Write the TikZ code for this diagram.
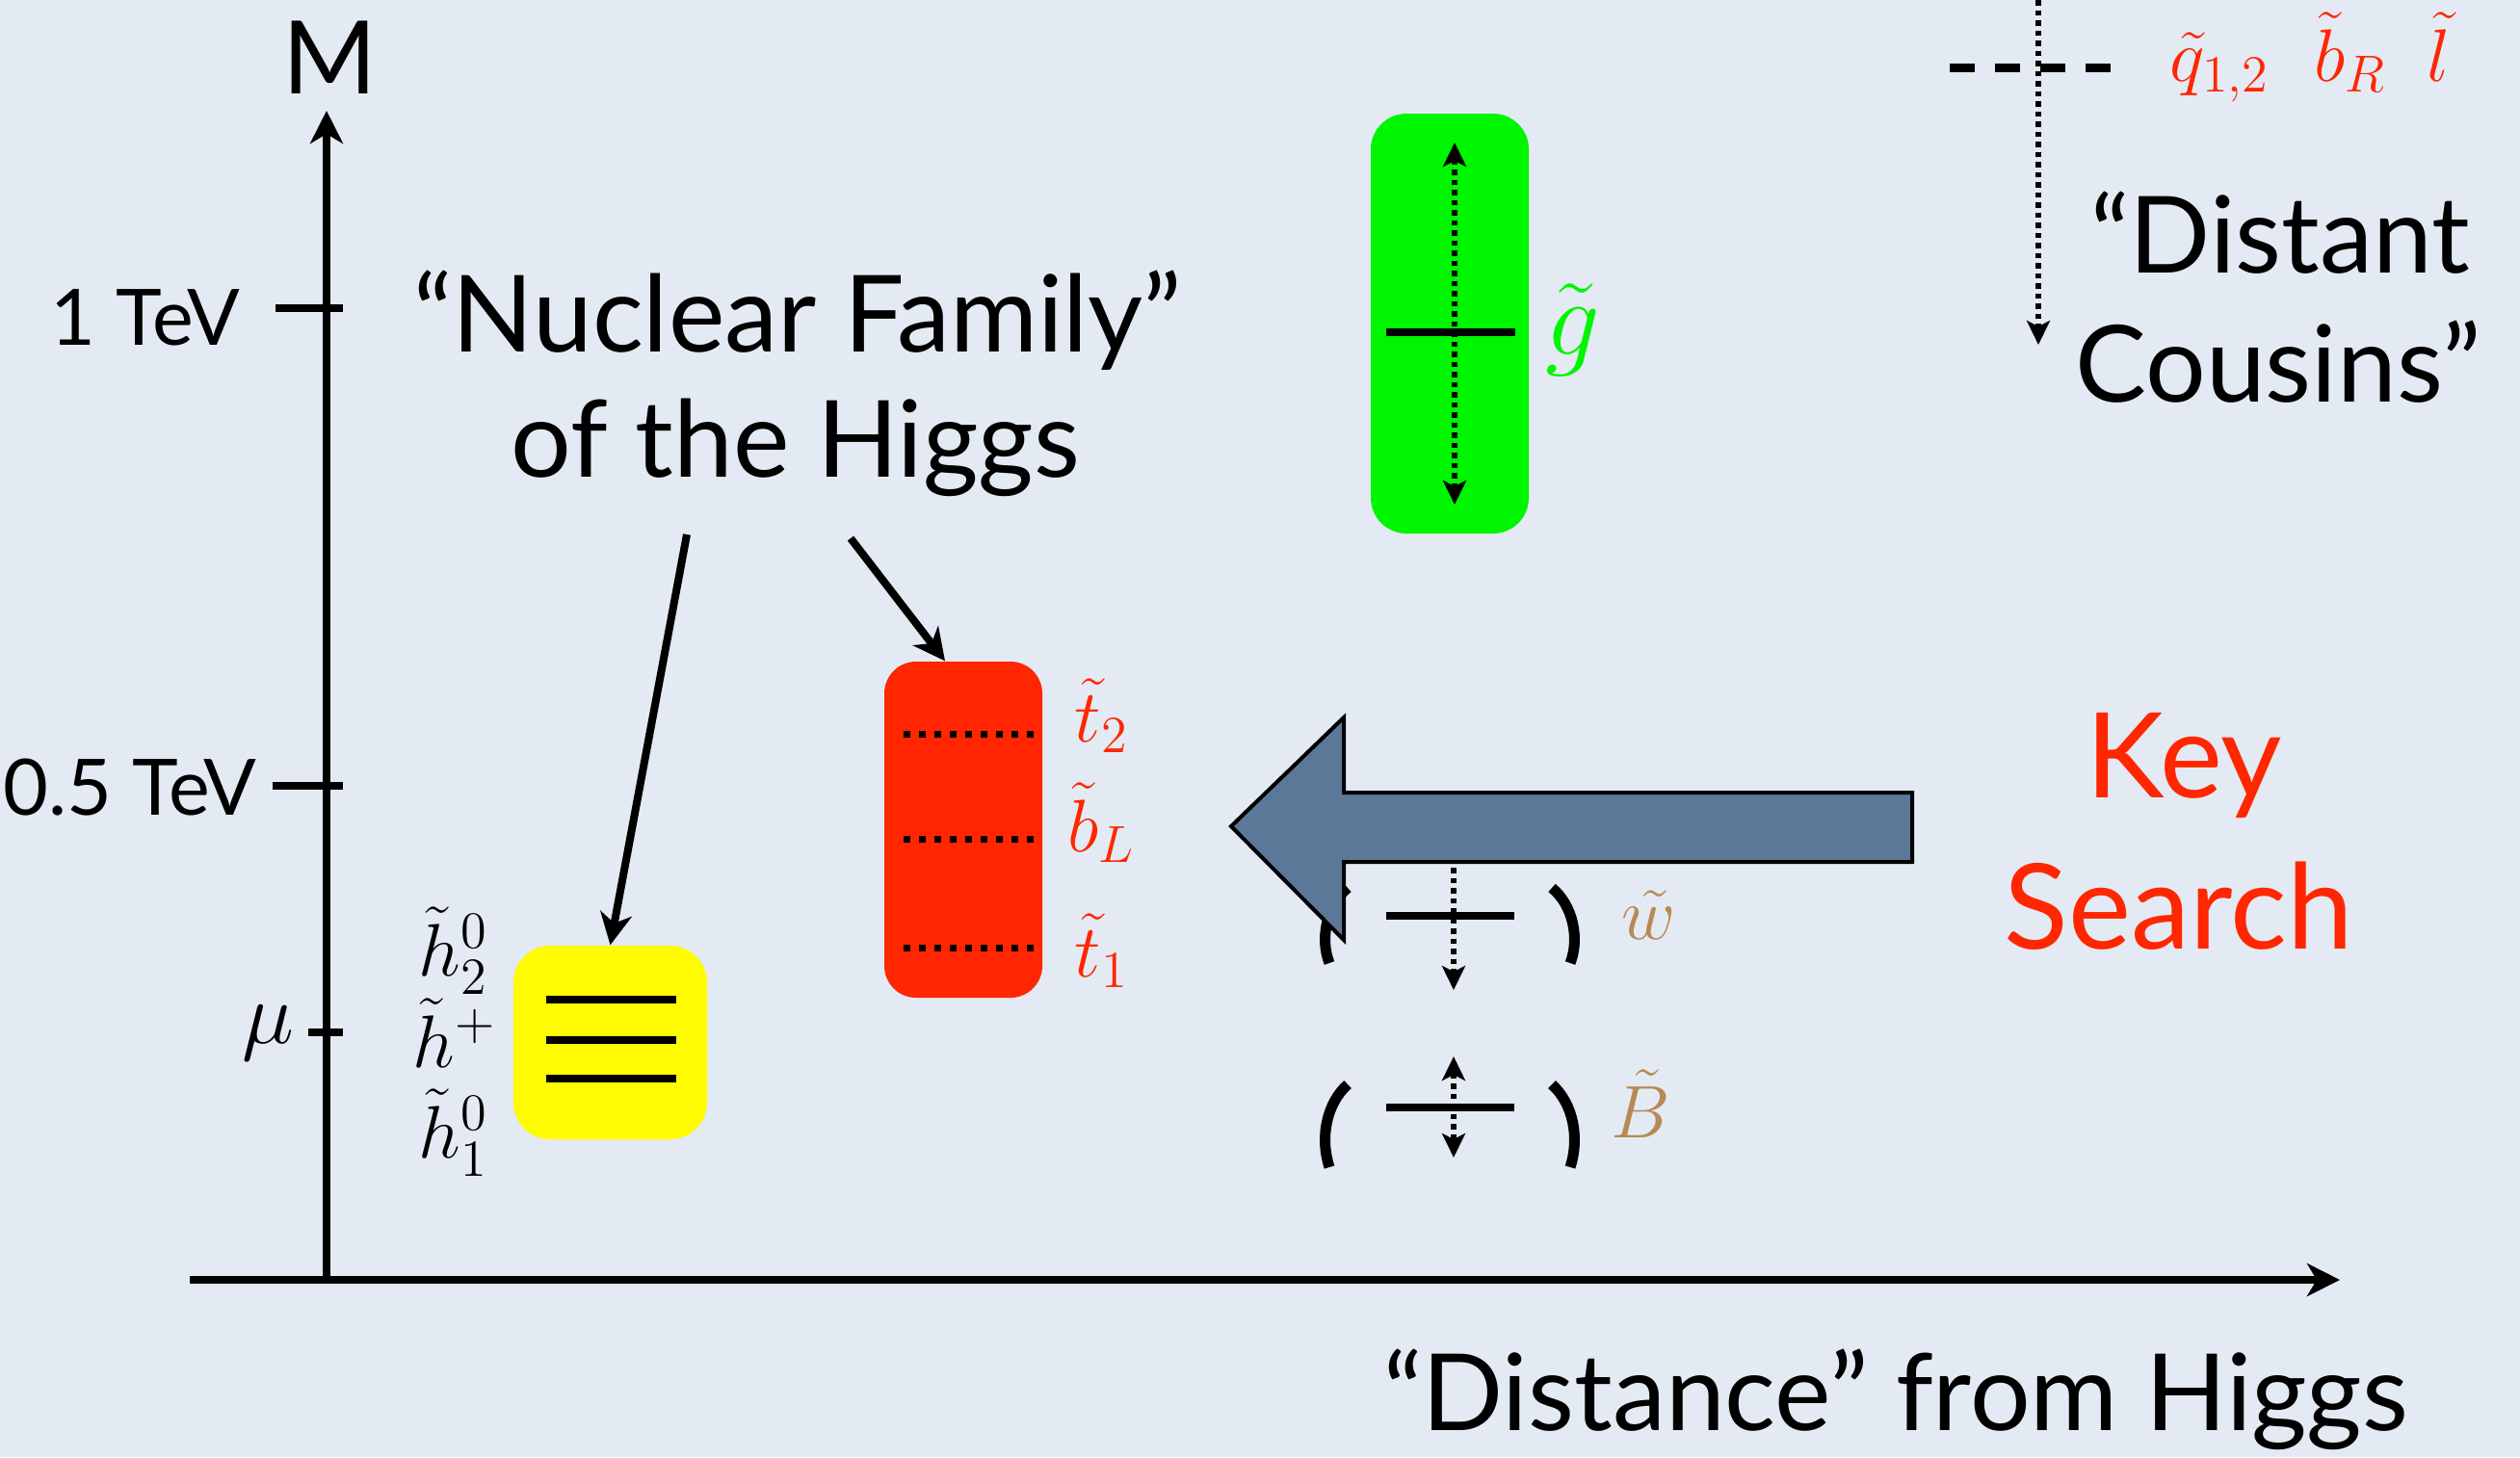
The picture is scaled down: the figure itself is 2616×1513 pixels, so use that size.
\RequirePackage{fix-cm}
\documentclass[tikz,border=0pt]{standalone}
\usepackage{fontspec}
\setmainfont{Lato}
\usetikzlibrary{arrows.meta,calc}
\definecolor{bgcol}{RGB}{227,234,243}
\definecolor{keyred}{RGB}{255,38,0}
\definecolor{keygreen}{RGB}{0,245,0}
\definecolor{keyyellow}{RGB}{255,251,0}
\definecolor{arrowblue}{RGB}{92,120,152}
\definecolor{gaugetan}{RGB}{184,137,82}
\begin{document}
\begin{tikzpicture}[x=0.1mm,y=-0.1mm,
  bigtext/.style={inner sep=0pt, font=\fontsize{31.5}{37}\selectfont},
  keytext/.style={inner sep=0pt, text=keyred, font=\fontsize{35}{42}\selectfont},
  ticklabel/.style={inner sep=0pt, font=\fontsize{23}{28}\selectfont},
  mlabel/.style={inner sep=0pt, font=\fontsize{22}{26}\selectfont},
  axisline/.style={line width=0.8mm, -{Stealth[length=3.4mm,width=3.4mm,inset=1mm]}},
  tickline/.style={line width=0.75mm},
  pointer/.style={line width=0.8mm, -{Stealth[length=3.3mm,width=3.3mm,inset=1mm]}},
  levelbar/.style={line width=0.75mm},
  dotline/.style={line width=0.55mm, dash pattern=on 0.55mm off 0.5mm},
  dottip/.style={dotline, -{Stealth[length=2.5mm,width=2.4mm,inset=0.6mm]}},
  dotboth/.style={dotline, {Stealth[length=2.5mm,width=2.4mm,inset=0.6mm]}-{Stealth[length=2.5mm,width=2.4mm,inset=0.6mm]}},
  redlevel/.style={line width=0.7mm, dash pattern=on 0.7mm off 0.9mm},
  boxnode/.style={inner sep=0pt, draw=none},
  paren/.style={line width=1.1mm},
  bigarrow/.style={fill=arrowblue, draw=black, line width=0.4mm, line join=miter},
]
% background and page size
\fill[bgcol] (0,0) rectangle (2616,1513);
\useasboundingbox (0,0) rectangle (2616,1513);

% axes
\coordinate (origin) at (339,1329);
\coordinate (ytop) at (339,115);
\coordinate (xleft) at (197,1329);
\coordinate (xright) at (2429,1329);
\draw[axisline] (xleft) -- (xright);
\draw[axisline] (origin) -- (ytop);
\node[inner sep=0pt, font=\fontsize{30}{36}\selectfont, anchor=base] (mlab) at (342,97) {M};

% ticks and labels
\coordinate (t1a) at (286,320); \coordinate (t1b) at (356,320);
\coordinate (t2a) at (283,816); \coordinate (t2b) at (356,816);
\coordinate (t3a) at (320,1072); \coordinate (t3b) at (356,1072);
\draw[tickline] (t1a) -- (t1b);
\draw[tickline] (t2a) -- (t2b);
\draw[tickline] (t3a) -- (t3b);
\node[ticklabel, anchor=base east] (tev1) at (250,358) {1 TeV};
\node[ticklabel, anchor=base east] (tev05) at (267,846) {0.5 TeV};
\node[inner sep=0pt, font=\fontsize{26}{30}\selectfont, anchor=base east] (mulab) at (306,1083) {$\mu$};

% Nuclear family text
\node[bigtext, anchor=base] (nf1) at (828,365) {“Nuclear Family”};
\node[bigtext, anchor=base] (nf2) at (826,495) {of the Higgs};

% boxes
\node[boxnode, fill=keyyellow, rounded corners=3.8mm, minimum width=20.1mm, minimum height=20.1mm] (hbox) at (633.5,1082.5) {};
\node[boxnode, fill=keyred, rounded corners=3.3mm, minimum width=16.4mm, minimum height=34.9mm] (stopbox) at (1000,861.5) {};
\node[boxnode, fill=keygreen, rounded corners=3.7mm, minimum width=16.4mm, minimum height=43.6mm] (gbox) at (1505,336) {};

% higgsino levels
\draw[levelbar] (567,1038) -- (702,1038);
\draw[levelbar] (567,1080) -- (702,1080);
\draw[levelbar] (567,1120) -- (702,1120);
\node[mlabel, anchor=base east] (h2) at (507,1013) {$\tilde{h}_2^0$};
\node[mlabel, anchor=base east] (hp) at (516,1108) {$\tilde{h}^+$};
\node[mlabel, anchor=base east] (h1) at (507,1202) {$\tilde{h}_1^0$};

% stop/sbottom levels
\draw[redlevel] (938,762) -- (1073,762);
\draw[redlevel] (938,871) -- (1073,871);
\draw[redlevel] (938,984) -- (1073,984);
\node[mlabel, text=keyred, anchor=base west] (t2) at (1115,770) {$\tilde{t}_2$};
\node[mlabel, text=keyred, anchor=base west] (bl) at (1108,884) {$\tilde{b}_L$};
\node[mlabel, text=keyred, anchor=base west] (t1) at (1115,1014) {$\tilde{t}_1$};

% pointers from text
\coordinate (p1s) at (713,555);
\coordinate (p2s) at (883,559);
\draw[pointer] (p1s) -- (hbox.north);
\draw[pointer] (p2s) -- ($(stopbox.north)+(-19,0)$);

% gluino
\draw[levelbar, line width=0.8mm] (1439,345) -- (1573,345);
\draw[dotboth] (1510,148) -- (1510,524);
\node[inner sep=0pt, font=\fontsize{32}{38}\selectfont, text=keygreen, anchor=base west] (glu) at (1604,368) {$\tilde{g}$};

% wino row
\draw[paren] (1399,922) .. controls (1377,940) and (1370,975) .. (1380,1000);
\draw[paren] (1611,922) .. controls (1633,940) and (1640,975) .. (1630,1000);
\draw[levelbar] (1439,951) -- (1572,951);
\draw[dottip] (1509,880) -- (1509,1028);
\node[inner sep=0pt, font=\fontsize{22}{26}\selectfont, text=gaugetan, anchor=base west] (wino) at (1683,975) {$\tilde{w}$};

% bino row
\draw[paren] (1399,1126) .. controls (1377,1146) and (1370,1181) .. (1380,1212);
\draw[paren] (1611,1126) .. controls (1633,1146) and (1640,1181) .. (1630,1212);
\draw[levelbar] (1439,1150) -- (1572,1150);
\draw[dotboth] (1509,1097) -- (1509,1202);
\node[inner sep=0pt, font=\fontsize{22}{26}\selectfont, text=gaugetan, anchor=base west] (bino) at (1672,1181) {$\tilde{B}$};

% big arrow
\draw[bigarrow] (1985,823) -- (1395,823) -- (1395,745) -- (1278,858) -- (1395,976) -- (1395,895) -- (1985,895) -- cycle;

% Key Search
\node[keytext, anchor=base] (key) at (2267,828) {Key};
\node[keytext, anchor=base] (search) at (2262,985) {Search};

% distant cousins
\draw[line width=0.9mm, dash pattern=on 2.6mm off 2.1mm] (2024,70) -- (2192,70);
\coordinate (dtop) at (2116,0);
\coordinate (dbot) at (2116,358);
\draw[dottip] (dtop) -- (dbot);
\node[mlabel, text=keyred, anchor=base west] (q12) at (2252,84) {$\tilde{q}_{1,2}$};
\node[mlabel, text=keyred, anchor=base west] (bR) at (2402,84) {$\tilde{b}_R$};
\node[mlabel, text=keyred, anchor=base west] (sl) at (2519,84) {$\tilde{l}$};
\node[bigtext, anchor=base] (dc1) at (2367,283) {“Distant};
\node[bigtext, anchor=base] (dc2) at (2365,417) {Cousins”};

% x-axis label
\node[bigtext, anchor=base] (xlab) at (1968,1485) {“Distance” from Higgs};
\end{tikzpicture}
\end{document}
